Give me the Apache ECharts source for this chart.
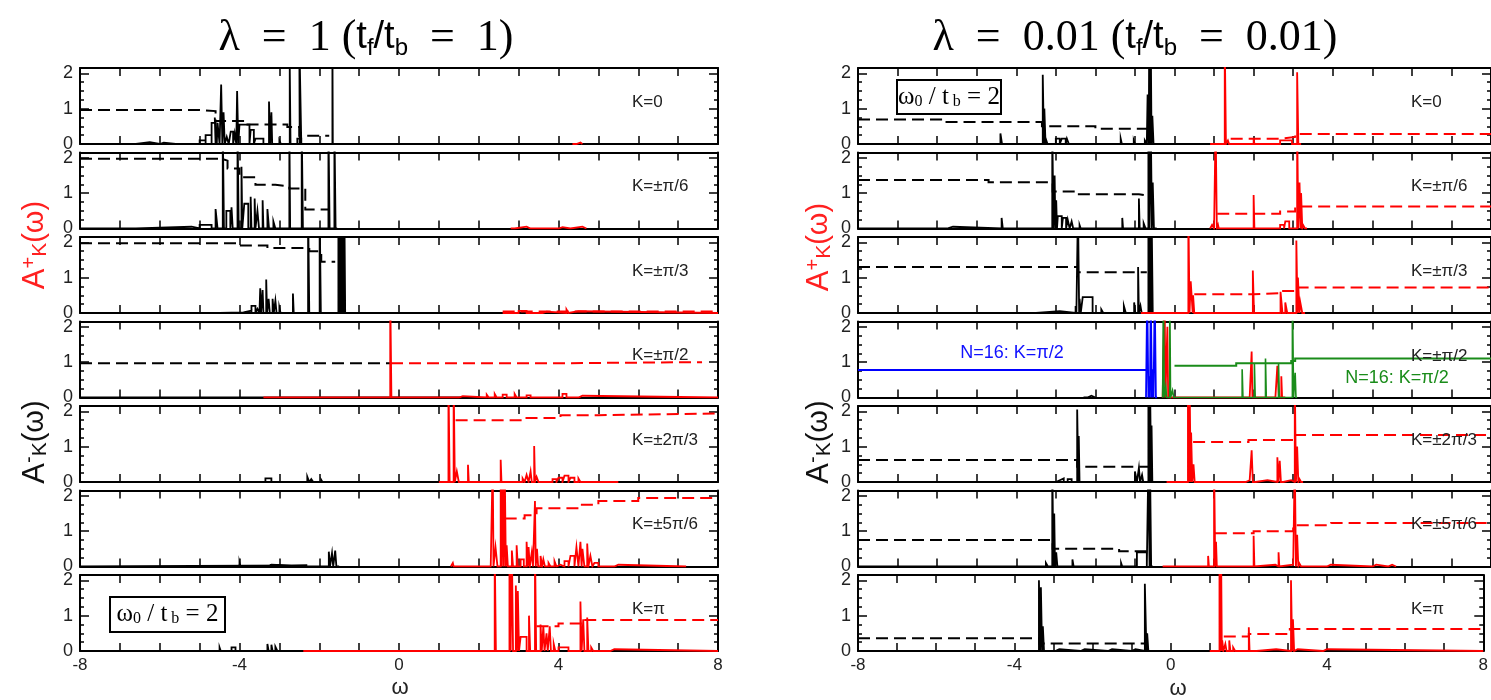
<!DOCTYPE html>
<html><head><meta charset="utf-8">
<script src="https://cdn.jsdelivr.net/npm/echarts@6/dist/echarts.min.js"></script>
<style>html,body{margin:0;padding:0;background:#fff}#c{width:1491px;height:700px}</style>
</head><body><div id="c"></div><script>
// ---------- DATA ----------
// spikes: [omega, height, width?]  (height 0 = baseline anchor, 3 = off-scale)
// dashed steps: [omega, level] (level holds until next omega)
const TITLES = ['1', '0.01'];
const K_LABELS = ['K=0', 'K=±π/6', 'K=±π/3', 'K=±π/2', 'K=±2π/3', 'K=±5π/6', 'K=π'];
const X_RANGE = [-8, 8];
const Y_RANGE = [0, 2.15];

// ---- lambda = 1 ----
const L1_bs = [[-8,0],[-6.6,0.05,0.35],[-6.0,0.04,0.1],[-5.6,0.04,0.05],[-5.0,0.1,0.15],[-4.85,0.25,0.15],[-4.7,0.6,0.1],[-4.62,0.75,0.05],[-4.55,0.6,0.05],[-4.46,1.68,0.03],[-4.4,0.9,0.03],[-4.32,0.2,0.05],[-4.22,0.35,0.06],[-4.12,0.3,0.04],[-4.06,1.5,0.03],[-4.0,0.55,0.25],[-3.72,0.4,0.08],[-3.6,0.15,0.2],[-3.26,1.2,0.03],[-3.2,0.9,0.02],[-3.0,0.1,0.04],[-2.74,2.2,0.02],[-2.55,0.15,0.1],[-2.5,3,0.01],[-1.67,3,0.01],[-1.6,0]];
const L1_bd = [[-8,0.96],[-5.0,0.93],[-4.6,0.65],[-3.8,0.55],[-2.8,0.48],[-2.5,0.23],[-1.75,0.23]];
const L1_rs = [[4.35,0],[4.45,0.04,0.1],[4.6,0]];
const L1_rd = [];

const L2_bs = [[-8,0],[-6.6,0.05,1.4],[-5.0,0.1,0.3],[-4.6,0.55,0.05],[-4.42,3,0.03],[-4.33,0.5,0.1],[-4.2,0.6,0.03],[-4.05,3,0.03],[-3.95,1.75,0.02],[-3.88,0.7,0.1],[-3.72,0.9,0.02],[-3.62,0.85,0.02],[-3.55,0.5,0.04],[-3.42,0.8,0.02],[-3.3,0.55,0.04],[-3.15,0.2,0.05],[-2.75,3,0.02],[-2.44,3,0.03],[-1.77,3,0.03],[-1.62,3,0.03],[-1.55,0]];
const L2_bd = [[-8,1.97],[-4.45,1.92],[-4.3,1.7],[-4.0,1.45],[-3.6,1.24],[-3.1,1.19],[-2.75,1.13],[-2.35,0.54],[-1.75,0.54]];
const L2_rs = [[2.8,0],[2.9,0.05,0.3],[3.3,0],[4.0,0.04,0.1],[4.3,0.05,0.3],[4.7,0]];
const L2_rd = [];

const L3_bs = [[-8,0],[-4.5,0.02,0.6],[-3.85,0.07,0.15],[-3.7,0.2,0.1],[-3.55,0.12,0.05],[-3.48,0.7,0.02],[-3.42,0.65,0.02],[-3.33,0.95,0.02],[-3.27,0.4,0.03],[-3.17,0.4,0.03],[-3.1,0.35,0.03],[-3.0,0.15,0.03],[-2.66,0.55,0.02],[-2.28,3,0.03],[-1.99,3,0.03],[-1.52,3,0.02],[-1.49,3,0.02],[-1.46,3,0.02],[-1.43,3,0.02],[-1.40,3,0.02],[-1.37,3,0.02],[-1.3,0]];
const L3_bd = [[-8,1.97],[-4.0,1.91],[-3.3,1.84],[-2.25,1.75],[-1.95,1.45],[-1.6,1.45]];
const L3_rs = [[2.6,0],[3.0,0.06,0.2],[3.6,0.04,0.1],[4.2,0.1,0.05],[4.3,0.05,0.2],[8,0]];
const L3_rd = [[2.6,0.04],[8,0.04]];

const L4_bs = [[-8,0],[-3.4,0],[-0.1,0],[2.0,0]];
const L4_bd = [[-8,0.97],[-0.2,0.97]];
const L4_rs = [[-3.4,0],[-0.22,3,0.03],[-0.1,0],[1.5,0.04,0.1],[2.2,0.08,0.05],[2.4,0.1,0.05],[2.6,0.08,0.1],[2.9,0.1,0.05],[3.2,0.06,0.1],[3.5,0.05,0.05],[4.1,0.1,0.1],[4.5,0.05,0.1],[8,0]];
const L4_rd = [[-0.2,0.97],[4.1,1.0],[7.6,1.0]];

const L5_bs = [[-8,0],[-3.35,0.1,0.15],[-2.3,0.15,0.05],[-2.2,0.08,0.05],[-1.95,0.06,0.03],[-1.5,0.05,0.03],[-1.3,0]];
const L5_bd = [];
const L5_rs = [[1.0,0],[1.24,3,0.03],[1.37,3,0.03],[1.45,0.3,0.05],[1.73,0.49],[2.55,0.63],[3.1,0.1,0.05],[3.2,0.2,0.05],[3.3,0.3,0.03],[3.39,1.02],[3.45,0.15,0.05],[3.6,0.03],[3.85,0.08,0.1],[4.0,0.12,0.1],[4.15,0.18,0.1],[4.3,0.12,0.1],[4.5,0.1,0.05],[5.5,0]];
const L5_rd = [[1.42,1.75],[3.1,1.81],[4.05,1.89],[5.0,1.94],[8,1.94]];

const L6_bs = [[-8,0.03,5.7],[-4.0,0.1,0.02],[-3.3,0.05,0.1],[-2.3,0],[-1.76,0.42,0.03],[-1.68,0.38,0.03],[-1.6,0.45,0.03],[-1.5,0]];
const L6_bd = [];
const L6_rs = [[1.3,0],[1.35,0.1,0.02],[1.4,0],[2.3,0],[2.35,3,0.02],[2.42,0.55,0.05],[2.55,3,0.03],[2.6,3,0.03],[2.65,3,0.03],[2.7,0.6,0.03],[2.83,0.45,0.03],[2.95,0.6,0.03],[3.05,0.2,0.08],[3.2,0.7,0.03],[3.25,0.55,0.03],[3.33,0.4,0.03],[3.41,1.85,0.02],[3.46,0.5,0.03],[3.55,0.3,0.04],[3.62,0.2,0.04],[3.75,0.1,0.05],[3.9,0.15,0.05],[4.0,0.05,0.05],[4.15,0.15,0.1],[4.3,0.3,0.1],[4.45,0.55,0.05],[4.55,0.7,0.03],[4.6,0.5,0.05],[4.72,0.65,0.03],[4.8,0.3,0.05],[4.9,0.1,0.1],[5.4,0.05,0.1],[7.2,0]];
const L6_rd = [[2.65,1.36],[3.15,1.45],[3.45,1.65],[4.5,1.75],[5.0,1.85],[6.0,1.94],[8,1.94]];

const L7_bs = [[-8,0],[-4.5,0.1,0.03],[-4.2,0.1,0.1],[-4.0,0.05,0.05],[-3.3,0.2,0.03],[-3.2,0.18,0.03],[-3.1,0.12,0.05],[-2.4,0]];
const L7_bd = [];
const L7_rs = [[-2.4,0],[2.4,3,0.03],[2.77,3,0.03],[2.83,3,0.03],[2.93,1.85,0.03],[2.98,1.7,0.03],[3.05,0.4,0.15],[3.26,1.0,0.03],[3.41,3,0.03],[3.55,0.75,0.03],[3.62,0.7,0.03],[3.7,0.5,0.03],[3.78,0.7,0.03],[3.88,0.2,0.04],[4.0,0.1,0.25],[4.55,1.4,0.03],[4.62,0.9,0.03],[4.72,0.95,0.03],[4.82,0.1,0.05],[5.3,0.05,0.1],[8,0]];
const L7_rd = [[3.45,0.7],[4.0,0.78],[4.6,0.88],[8,0.88]];

// ---- lambda = 0.01 ----
const R1_bs = [[-8,0],[-5.6,0.05,0.05],[-4.4,0.3,0.04],[-3.33,1.96,0.03],[-3.29,1.0,0.03],[-3.24,0.1,0.03],[-3.0,0.15,0.1],[-2.85,0.15,0.1],[-2.72,0.15,0.05],[-1.36,0.15,0.03],[-1.03,0.1,0.03],[-0.75,0.1,0.05],[-0.68,1.4,0.03],[-0.64,3,0.03],[-0.6,3,0.02],[-0.56,0.8,0.03],[-0.5,0]];
const R1_bd = [[-8,0.69],[-5.9,0.62],[-3.35,0.5],[-2.0,0.43],[-0.66,0.43]];
const R1_rs = [[0.9,0],[1.27,3,0.03],[1.35,0.1,0.03],[2.0,0.15,0.02],[2.67,0.1,0.3],[3.1,2.03,0.03],[3.2,0]];
const R1_rd = [[1.42,0.15],[2.67,0.2],[3.05,0.28],[8,0.28]];

const R2_bs = [[-8,0],[-5.75,0.05,0.15],[-4.37,0.3,0.03],[-3.09,3,0.03],[-3.03,1.5,0.02],[-2.99,0.8,0.02],[-2.95,0.35,0.1],[-2.82,0.3,0.08],[-2.7,0.25,0.05],[-2.6,0.2,0.04],[-2.4,0.1,0.03],[-1.32,0.3,0.02],[-0.9,0.85,0.02],[-0.78,0.15,0.05],[-0.66,3,0.03],[-0.6,3,0.03],[-0.55,1.3,0.03],[-0.45,0]];
const R2_bd = [[-8,1.37],[-4.7,1.31],[-3.08,1.05],[-2.5,0.97],[-0.9,0.92],[-0.65,0.92]];
const R2_rs = [[0.9,0],[0.95,0.1,0.05],[1.04,3,0.03],[1.1,0.1,0.02],[2.0,0.95,0.02],[2.25,0.05,0.02],[2.67,0.1,0.1],[2.8,0.2,0.1],[3.1,3,0.03],[3.16,1.3,0.03],[3.2,1.0,0.03],[3.25,0.1,0.05],[3.35,0]];
const R2_rd = [[1.08,0.42],[2.67,0.48],[3.05,0.62],[8,0.62]];

const R3_bs = [[-8,0],[-3.5,0.05,0.6],[-2.5,0.2,0.02],[-2.44,3,0.03],[-2.4,0.4,0.03],[-2.32,0.45,0.25],[-1.85,0.1,0.05],[-1.28,0.2,0.05],[-1.02,0.3,0.03],[-0.92,1.3,0.02],[-0.86,0.2,0.03],[-0.66,3,0.03],[-0.62,3,0.03],[-0.58,3,0.03],[-0.5,0]];
const R3_bd = [[-8,1.3],[-2.44,1.15],[-0.7,1.15]];
const R3_rs = [[-0.85,0],[0.35,3,0.03],[0.41,0.9,0.05],[0.47,0.5,0.03],[0.55,0],[1.98,1.2,0.03],[2.68,0.6,0.05],[2.8,0.3,0.05],[3.08,2.05,0.03],[3.12,1.0,0.04],[3.18,0.3,0.05],[3.3,0]];
const R3_rd = [[0.5,0.53],[2.0,0.56],[2.67,0.62],[3.05,0.72],[8,0.72]];

const R4_bs = [[-2.3,0],[-2.2,0.05,0.1],[-2.0,0]];
const R4_bd = [];
const R4_rs = [[-0.3,0],[-0.25,3,0.02],[-0.18,2.0,0.02],[-0.1,0],[1.9,0],[1.95,1.3,0.02],[2.0,0],[2.55,0],[2.6,0.9,0.04],[2.7,0.6,0.02],[2.8,0]];
const R4_rd = [];
const R4_blueLevel = [[-8,0.78],[-0.7,0.78]];
const R4_blueSpikes = [[-0.72,0],[-0.69,3,0.03],[-0.64,0.6,0.02],[-0.6,3,0.03],[-0.55,0.8,0.02],[-0.5,3,0.03],[-0.44,0]];
const R4_greenLevel = [[0.0,0.9],[1.56,0.97],[2.95,1.03],[3.05,1.1],[8,1.1]];
const R4_greenSpikes = [[-0.3,0],[-0.28,3,0.02],[-0.22,0.3,0.02],[-0.12,3,0.02],[-0.05,0.2,0.03],[0.3,0.05,0.02],[1.71,0.8,0.02],[2.02,0.95,0.02],[2.3,1.1,0.02],[2.63,0.95,0.02],[2.98,3,0.03],[3.05,0.7,0.02],[3.1,0]];

const R5_bs = [[-8,0],[-3.0,0.05,0.1],[-2.85,0.1,0.05],[-2.7,0.08,0.1],[-2.46,2.05,0.03],[-2.42,1.3,0.02],[-2.38,0],[-1.0,0.3,0.05],[-0.9,0.4,0.03],[-0.82,0.2,0.03],[-0.66,3,0.03],[-0.62,3,0.03],[-0.58,1.6,0.02],[-0.5,0]];
const R5_bd = [[-8,0.62],[-2.46,0.43],[-0.64,0.43]];
const R5_rs = [[-0.2,0],[-0.1,0.05,0.05],[0.34,3,0.03],[0.38,3,0.03],[0.42,1.4,0.03],[0.48,0.5,0.03],[0.55,0],[0.7,0.05,0.03],[1.8,0.05,0.1],[1.95,0.9,0.03],[2.05,0.05,0.3],[2.6,0.7,0.03],[2.66,0.6,0.03],[2.75,0.05,0.2],[3.04,3,0.03],[3.1,1.0,0.03],[3.15,0.1,0.05],[3.25,0]];
const R5_rd = [[0.47,1.13],[1.87,1.19],[3.05,1.33],[8,1.33]];

const R6_bs = [[-8,0],[-5.57,0.05,0.05],[-4.37,0.05,0.05],[-3.25,0.1,0.05],[-3.09,3,0.03],[-3.04,1.5,0.02],[-2.99,0.4,0.03],[-2.58,0.2,0.03],[-1.35,0.1,0.03],[-0.95,0.4,0.25],[-0.66,3,0.03],[-0.62,3,0.03],[-0.55,0]];
const R6_bd = [[-8,0.75],[-3.08,0.5],[-1.4,0.43],[-0.65,0.43]];
const R6_rs = [[-0.3,0],[0.3,0.05,0.03],[0.85,0.3,0.02],[1.0,3,0.03],[1.05,0.7,0.02],[1.1,0],[1.3,0.05,0.03],[2.0,0.87,0.02],[2.05,0.05,0.5],[2.63,0.4,0.02],[2.7,0.05,0.3],[3.04,3,0.03],[3.1,0.9,0.03],[3.15,0.1,0.05],[3.25,0],[3.85,0.05,0.1],[5.0,0.05,0.1],[5.4,0.05,0.1],[5.6,0]];
const R6_rd = [[1.02,0.94],[2.0,1.0],[3.0,1.17],[3.96,1.23],[8,1.23]];

const R7_bs = [[-8,0],[-3.37,2.0,0.03],[-3.32,1.8,0.03],[-3.27,0.7,0.03],[-3.2,0],[-2.95,0.05,0.1],[-2.3,0.05,0.1],[-1.6,0.05,0.1],[-1.0,0.05,0.1],[-0.66,1.9,0.04],[-0.6,0.5,0.03],[-0.55,0]];
const R7_bd = [[-8,0.36],[-3.35,0.21],[-0.64,0.21]];
const R7_rs = [[1.0,0],[1.25,3,0.03],[1.29,3,0.02],[1.32,0.3,0.03],[1.4,0.2,0.03],[1.5,0.3,0.03],[1.6,0.1,0.05],[2.0,0.67,0.02],[2.2,0.05,0.5],[3.08,2.0,0.03],[3.13,0.9,0.03],[3.2,0.05,0.05],[3.9,0.05,0.1],[8,0]];
const R7_rd = [[1.36,0.41],[2.0,0.48],[3.05,0.62],[8,0.62]];

// ---------- BUILD ----------
const LEFT = [
  [L1_bs,L1_bd,L1_rs,L1_rd],[L2_bs,L2_bd,L2_rs,L2_rd],[L3_bs,L3_bd,L3_rs,L3_rd],
  [L4_bs,L4_bd,L4_rs,L4_rd],[L5_bs,L5_bd,L5_rs,L5_rd],[L6_bs,L6_bd,L6_rs,L6_rd],[L7_bs,L7_bd,L7_rs,L7_rd]];
const RIGHT = [
  [R1_bs,R1_bd,R1_rs,R1_rd],[R2_bs,R2_bd,R2_rs,R2_rd],[R3_bs,R3_bd,R3_rs,R3_rd],
  [R4_bs,R4_bd,R4_rs,R4_rd],[R5_bs,R5_bd,R5_rs,R5_rd],[R6_bs,R6_bd,R6_rs,R6_rd],[R7_bs,R7_bd,R7_rs,R7_rd]];

function spikes(list){
  const out=[];
  list.forEach(s=>{
    const x=s[0],h=s[1],w=(s.length>2?s[2]:0.02);
    if(h===0){out.push([x,0]);return;}
    out.push([x,0],[x,h],[x+w,h],[x+w,0]);
  });
  return out;
}

const COLS=[{left:80,width:638},{left:858,width:638}];
const TOP0=68, PITCH=84.5, PH=76;
const SANS="'Liberation Sans', Arial, sans-serif";
const SERIF="'Liberation Serif','DejaVu Serif', serif";

const grid=[],xAxis=[],yAxis=[],series=[];
const AX={color:'#000',width:2};

function addPanel(gi,col,row){
  const top=TOP0+PITCH*row;
  grid.push({left:COLS[col].left,top:top,width:COLS[col].width,height:PH,containLabel:false});
  const isBottom=(row===6);
  xAxis.push({gridIndex:gi,type:'value',min:X_RANGE[0],max:X_RANGE[1],interval:1,position:'bottom',
    axisLine:{show:true,onZero:false,lineStyle:AX},
    axisTick:{show:true,inside:true,length:8,lineStyle:{color:'#000',width:1.5}},
    axisLabel:{show:isBottom,margin:6,color:'#222',fontSize:17,fontFamily:SANS,
      formatter:v=>(Math.abs(v)%4===0?String(v):'')},
    splitLine:{show:false}});
  xAxis.push({gridIndex:gi,type:'value',min:X_RANGE[0],max:X_RANGE[1],interval:1,position:'top',
    axisLine:{show:true,onZero:false,lineStyle:AX},
    axisTick:{show:true,inside:true,length:8,lineStyle:{color:'#000',width:1.5}},
    axisLabel:{show:false},splitLine:{show:false}});
  ['left','right'].forEach(pos=>{
    yAxis.push({gridIndex:gi,type:'value',min:Y_RANGE[0],max:Y_RANGE[1],interval:1,position:pos,
      axisLine:{show:true,onZero:false,lineStyle:AX},
      axisTick:{show:true,inside:true,length:9,lineStyle:{color:'#000',width:1.5}},
      axisLabel:{show:pos==='left',margin:7,color:'#222',fontSize:18,fontFamily:SANS,
        formatter:v=>(Number.isInteger(v)?String(v):'')},
      splitLine:{show:false}});
    yAxis.push({gridIndex:gi,type:'value',min:Y_RANGE[0],max:Y_RANGE[1],interval:0.25,position:pos,
      axisLine:{show:false,onZero:false},
      axisTick:{show:true,inside:true,length:4,lineStyle:{color:'#000',width:1.5}},
      axisLabel:{show:false},splitLine:{show:false}});
  });
}
function addLine(gi,data,color,width,dashed,step,z){
  if(!data||!data.length) return;
  series.push({type:'line',xAxisIndex:2*gi,yAxisIndex:4*gi,data:data,symbol:'none',showSymbol:false,
    silent:true,animation:false,clip:true,step:step||false,z:z||2,
    lineStyle:{color:color,width:width,type:dashed?[12,6]:'solid',cap:'butt',join:'miter'}});
}

let gi=0;
[LEFT,RIGHT].forEach((colData,col)=>{
  colData.forEach((p,row)=>{
    addPanel(gi,col,row);
    addLine(gi,spikes(p[0]),'#000',1.8,false,false,2);
    addLine(gi,p[1],'#000',2,true,'end',3);
    addLine(gi,spikes(p[2]),'#ff0000',1.8,false,false,4);
    addLine(gi,p[3],'#ff0000',2,true,'end',5);
    if(col===1&&row===3){
      addLine(gi,R4_blueLevel,'#0000ff',2,false,'end',6);
      addLine(gi,spikes(R4_blueSpikes),'#0000ff',1.8,false,false,6);
      addLine(gi,spikes(R4_greenSpikes),'#1a8c1a',1.6,false,false,6);
      addLine(gi,R4_greenLevel,'#1a8c1a',2,false,'end',7);
    }
    gi++;
  });
});

// ---------- TEXT ----------
const graphic=[];
function titleText(l){return '{a|λ  =  '+l+' (}{t|t}{s|f}{t|/t}{s|b}{a|  =  '+l+')}';}
const titleRich={
  a:{fontFamily:SERIF,fontSize:44,fill:'#000'},
  t:{fontFamily:SANS,fontSize:38,fill:'#000'},
  s:{fontFamily:SANS,fontSize:24,fill:'#000',verticalAlign:'bottom'}
};
graphic.push({type:'text',x:366,y:38,z:100,style:{text:titleText(TITLES[0]),align:'center',verticalAlign:'middle',rich:titleRich}});
graphic.push({type:'text',x:1135,y:38,z:100,style:{text:titleText(TITLES[1]),align:'center',verticalAlign:'middle',rich:titleRich}});

function aTitle(x,y,sign,color){
  graphic.push({type:'text',x:x,y:y,rotation:Math.PI/2,z:100,style:{
    text:'{A|A}{p|'+sign+'}{K|K}{w|(ω)}',align:'center',verticalAlign:'middle',
    rich:{A:{fontFamily:SANS,fontSize:31,fill:color},
          p:{fontFamily:SANS,fontSize:20,fill:color,verticalAlign:'top'},
          K:{fontFamily:SANS,fontSize:21,fill:color,verticalAlign:'bottom'},
          w:{fontFamily:SANS,fontSize:29,fill:color}}}});
}
aTitle(35,245,'+','#ff2020');
aTitle(35,442,'-','#111');
aTitle(819,247,'+','#ff2020');
aTitle(819,442,'-','#111');

for(let row=0;row<7;row++){
  const y=TOP0+PITCH*row+34;
  graphic.push({type:'text',x:632,y:y,z:100,style:{text:K_LABELS[row],align:'left',verticalAlign:'middle',font:'17px '+SANS,fill:'#222'}});
  graphic.push({type:'text',x:1411,y:y+(row===3?1:0),z:100,style:{text:K_LABELS[row],align:'left',verticalAlign:'middle',font:'17px '+SANS,fill:'#222'}});
}
function omegaBox(x,y,w,h){
  graphic.push({type:'rect',z:100,shape:{x:x,y:y,width:w,height:h},style:{fill:'#fff',stroke:'#000',lineWidth:2}});
  graphic.push({type:'text',z:101,x:x+w/2,y:y+h/2,style:{text:'{n|ω}{s|0}{n| / t}{s| b}{n| = 2}',align:'center',verticalAlign:'middle',
    rich:{n:{fontFamily:SERIF,fontSize:25,fill:'#000'},s:{fontFamily:SERIF,fontSize:16,fill:'#000',verticalAlign:'bottom'}}}});
}
omegaBox(110,597,115,35);
omegaBox(897,80,104,34);

graphic.push({type:'text',x:1012,y:353,z:100,style:{text:'N=16: K=π/2',align:'center',verticalAlign:'middle',font:'18px '+SANS,fill:'#1010ff'}});
graphic.push({type:'text',x:1397,y:378,z:100,style:{text:'N=16: K=π/2',align:'center',verticalAlign:'middle',font:'18px '+SANS,fill:'#1a8c1a'}});

graphic.push({type:'text',x:400,y:688,z:100,style:{text:'ω',align:'center',verticalAlign:'middle',font:'22px '+SANS,fill:'#222'}});
graphic.push({type:'text',x:1178,y:689,z:100,style:{text:'ω',align:'center',verticalAlign:'middle',font:'22px '+SANS,fill:'#222'}});

const chart=echarts.init(document.getElementById('c'),null,{renderer:'canvas'});
chart.setOption({animation:false,backgroundColor:'#fff',grid,xAxis,yAxis,series,graphic});
</script></body></html>
